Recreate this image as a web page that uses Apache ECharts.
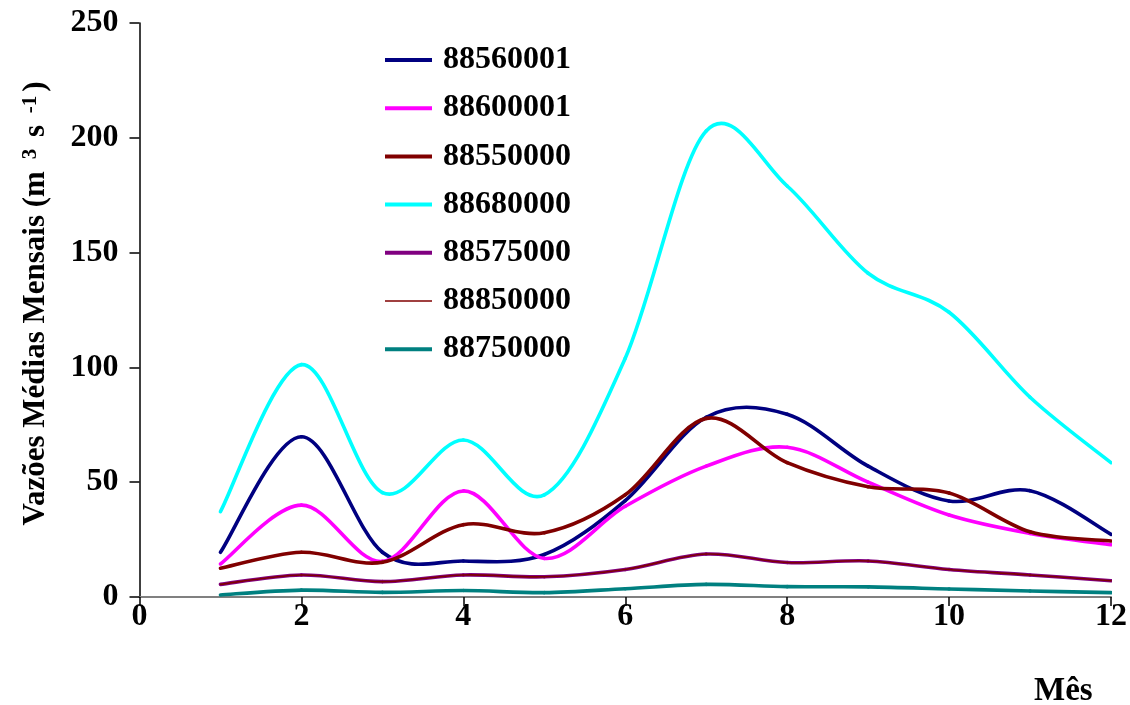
<!DOCTYPE html>
<html><head><meta charset="utf-8">
<script src="https://cdn.jsdelivr.net/npm/echarts@6/dist/echarts.min.js"></script>
<style>html,body{margin:0;padding:0;background:#fff}#c{width:1130px;height:705px}</style>
</head><body><div id="c"></div>
<script>
// ---- data ----
const months = [1, 2, 3, 4, 5, 6, 7, 8, 9, 10, 11, 12];
const names = ['88560001', '88600001', '88550000', '88680000', '88575000', '88850000', '88750000'];
const v88560001 = [19.5, 69.8, 19.5, 15.7, 18.5, 42.0, 78.3, 79.6, 57.0, 41.8, 46.3, 27.3];
const v88600001 = [14.4, 40.0, 15.5, 46.2, 16.8, 39.5, 57.0, 65.2, 50.0, 35.7, 27.7, 22.8];
const v88550000 = [12.5, 19.5, 15.1, 31.5, 28.0, 44.5, 77.8, 58.5, 48.0, 45.3, 28.4, 24.4];
const v88680000 = [37.2, 101.2, 45.5, 68.4, 44.5, 104.0, 203.0, 179.0, 141.0, 124.0, 87.0, 58.5];
const v88575000 = [5.5, 9.6, 6.7, 9.6, 8.8, 12.0, 18.7, 15.0, 15.7, 12.0, 9.6, 7.1];
const v88850000 = [5.5, 9.6, 6.7, 9.6, 8.8, 12.0, 18.7, 15.0, 15.7, 12.0, 9.6, 7.1];
const v88750000 = [0.9, 3.0, 2.0, 2.8, 1.9, 3.6, 5.5, 4.5, 4.4, 3.5, 2.6, 1.9];
const values = [v88560001, v88600001, v88550000, v88680000, v88575000, v88850000, v88750000];
const yAxisTitle = 'Vazões Médias Mensais (m ';
const xAxisTitle = 'Mês';

// ---- styles ----
const colors = ['#000080', '#FF00FF', '#800000', '#00FFFF', '#800080', '#800000', '#008080'];
const widths = [3.6, 3.6, 3.6, 3.6, 3.6, 1.6, 3.6];
const FONT = "'Liberation Serif', 'Times New Roman', serif";
const THICK = 'path://M0,0L47,0L47,4L0,4Z';
const THIN = 'path://M0,0L47,0L47,1.6L0,1.6Z';

const chart = echarts.init(document.getElementById('c'), null, {renderer: 'canvas'});

// Smoothed line (Catmull-Rom style Bezier, like a spreadsheet "smoothed line"),
// every point placed through the cartesian coordinate system (api.coord).
function makeRender(si) {
  return function (params, api) {
    if (params.dataIndex !== 0) return null;
    const n = months.length;
    const pts = [];
    for (let j = 0; j < n; j++) pts.push(api.coord([months[j], values[si][j]]));
    const children = [];
    for (let j = 0; j < n - 1; j++) {
      const p0 = pts[Math.max(j - 1, 0)], p1 = pts[j], p2 = pts[j + 1], p3 = pts[Math.min(j + 2, n - 1)];
      children.push({
        type: 'bezierCurve',
        shape: {
          x1: p1[0], y1: p1[1], x2: p2[0], y2: p2[1],
          cpx1: p1[0] + (p2[0] - p0[0]) / 6, cpy1: p1[1] + (p2[1] - p0[1]) / 6,
          cpx2: p2[0] - (p3[0] - p1[0]) / 6, cpy2: p2[1] - (p3[1] - p1[1]) / 6
        },
        style: {stroke: colors[si], lineWidth: widths[si], fill: null, lineJoin: 'round', lineCap: 'round'},
        silent: true
      });
    }
    return {type: 'group', children: children};
  };
}

const series = names.map((n, i) => ({
  name: n,
  type: 'custom',
  coordinateSystem: 'cartesian2d',
  renderItem: makeRender(i),
  data: months.map((m, j) => [m, values[i][j]]),
  encode: {x: 0, y: 1},
  itemStyle: {color: colors[i]},
  clip: true,
  z: 2 + i
}));

chart.setOption({
  animation: false,
  backgroundColor: '#fff',
  grid: {left: 139.5, right: 17, top: 23, bottom: 108, containLabel: false},
  legend: {
    orient: 'vertical',
    left: 380, top: 39,
    itemWidth: 47, itemHeight: 14,
    itemGap: 16.2,
    symbolKeepAspect: true,
    data: names.map((n, i) => ({name: n, icon: widths[i] < 2 ? THIN : THICK})),
    textStyle: {fontFamily: FONT, fontWeight: 'bold', fontSize: 32, color: '#000', lineHeight: 32, padding: [0, 0, 0, 6]}
  },
  xAxis: {
    type: 'value', min: 0, max: 12, interval: 2,
    axisLine: {show: true, onZero: false, lineStyle: {color: '#808080', width: 2}},
    axisTick: {show: true, inside: false, length: 9, lineStyle: {color: '#000', width: 1.5}},
    axisLabel: {margin: 4, fontFamily: FONT, fontWeight: 'bold', fontSize: 32, color: '#000'},
    splitLine: {show: false}
  },
  yAxis: {
    type: 'value', min: 0, max: 250, interval: 50,
    name: yAxisTitle + '{sup|3} s {sup|-1})',
    nameLocation: 'middle', nameRotate: 90, nameGap: 88,
    nameTextStyle: {
      fontFamily: FONT, fontWeight: 'bold', fontSize: 31, color: '#000',
      padding: [0, 0, 0, 13],
      rich: {sup: {fontFamily: FONT, fontWeight: 'bold', fontSize: 21, verticalAlign: 'top', color: '#000', padding: [0, 4, 0, 4]}}
    },
    axisLine: {show: true, lineStyle: {color: '#000', width: 1.5}},
    axisTick: {show: true, inside: false, length: 10, lineStyle: {color: '#000', width: 1.5}},
    axisLabel: {margin: 21, fontFamily: FONT, fontWeight: 'bold', fontSize: 32, color: '#000'},
    splitLine: {show: false}
  },
  graphic: [{
    type: 'text', left: 1034, top: 675,
    style: {text: xAxisTitle, fontFamily: FONT, fontWeight: 'bold', fontSize: 33, fill: '#000'}
  }],
  series: series
});
</script></body></html>
